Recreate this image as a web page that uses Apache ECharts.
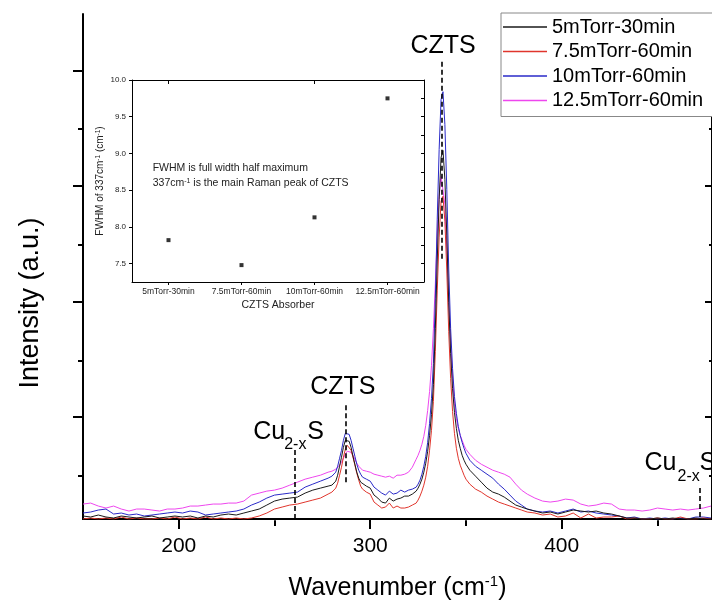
<!DOCTYPE html>
<html>
<head>
<meta charset="utf-8">
<script src="https://cdn.jsdelivr.net/npm/echarts@6/dist/echarts.min.js"></script>
<style>
  html, body { margin: 0; padding: 0; background: #fff; }
  #main { width: 712px; height: 608px; }
</style>
</head>
<body>
<div id="main"></div>
<script>
const FONT = '"Liberation Sans", Arial, sans-serif'

/** Raman shift, cm-1 (shared by the four spectra) */
const wavenumber = [
  150, 154, 158, 162, 166, 170, 174, 178, 182, 186, 190, 194, 198, 202, 206, 210, 214, 218, 222, 226, 230, 234, 238, 242, 246, 250, 254, 258, 262, 266, 270, 274, 278,
  280, 282, 283, 284, 285, 286, 287, 288, 289, 290, 291, 292, 293, 294, 295, 296, 298,
  300, 302, 304, 306, 308, 310, 312, 314, 316, 318, 320, 322, 324,
  325, 326, 327, 328, 329, 330, 331, 332, 333, 334, 335, 336, 337, 338, 339, 340, 341, 342, 343, 344, 345, 346, 347, 348, 349, 350, 352,
  355, 358, 361, 364, 367, 370, 373, 376, 379, 382,
  386, 390, 394, 398, 402, 406, 410, 414, 418, 422, 426, 430, 434, 438, 442, 446, 450, 454, 458, 462, 466, 470, 474, 478,
]

// intensities (a.u.)
const int5mTorr30 = [
  30, 20, 40, 20, 10, 30, 20, 10, 20, 30, 10, 20, 30, 20, 30, 10, 30, 20, 40, 50, 40, 60, 80, 100, 140, 180, 200, 210, 220, 260, 290, 310, 330,
  340, 380, 440, 530, 620, 720, 790, 810, 780, 720, 630, 550, 470, 410, 370, 350, 330,
  310, 240, 210, 170, 160, 210, 180, 200, 210, 230, 230, 250, 280,
  310, 350, 400, 470, 560, 680, 840, 1050, 1350, 1910, 2590, 3210, 3630, 3700, 3410, 2850, 2170, 1660, 1310, 1070, 910, 790, 710, 640, 590, 550, 490,
  430, 370, 310, 270, 250, 220, 180, 140, 120, 100,
  80, 60, 70, 50, 70, 90, 80, 70, 80, 60, 50, 30, 10, 10, 0, 0, 10, 0, 10, 0, 0, 10, 0, 0,
]
const int7p5mTorr60 = [
  0, 10, 0, 10, 0, 20, 0, 10, 0, 0, 10, 0, 20, 0, 10, 0, 20, 0, 10, 0, 10, 0, 10, 30, 60, 100, 120, 140, 150, 170, 190, 210, 250,
  270, 310, 360, 440, 520, 620, 700, 740, 740, 690, 620, 540, 460, 390, 330, 300, 270,
  250, 170, 140, 110, 120, 160, 110, 130, 110, 110, 120, 140, 160,
  190, 230, 280, 340, 420, 530, 690, 890, 1180, 1680, 2290, 2830, 3190, 3240, 2990, 2490, 1880, 1410, 1080, 860, 710, 610, 540, 490, 440, 400, 350,
  300, 270, 230, 200, 170, 150, 130, 110, 90, 70,
  60, 40, 50, 20, 30, 60, 10, 50, 10, 20, 20, 30, 0, 10, 0, 0, 10, 0, 0, 20, 0, 0, 10, 0,
]
const int10mTorr60 = [
  60, 70, 90, 100, 50, 60, 40, 50, 30, 40, 50, 60, 70, 60, 80, 70, 40, 50, 60, 70, 80, 100, 140, 170, 210, 240, 250, 260, 270, 320, 350, 380, 410,
  430, 470, 530, 610, 690, 790, 860, 880, 850, 790, 710, 630, 550, 490, 450, 420, 400,
  380, 320, 290, 260, 240, 280, 250, 260, 290, 270, 290, 300, 320,
  350, 390, 450, 530, 630, 770, 960, 1210, 1560, 2210, 3010, 3710, 4210, 4290, 3960, 3310, 2510, 1910, 1510, 1230, 1060, 930, 840, 770, 710, 660, 590,
  530, 490, 450, 410, 350, 300, 240, 180, 140, 100,
  80, 70, 80, 60, 80, 100, 70, 80, 60, 50, 40, 30, 10, 20, 0, 10, 0, 10, 0, 10, 0, 20, 20, 10,
]
const int12p5mTorr60 = [
  150, 160, 130, 110, 130, 100, 80, 100, 100, 90, 80, 100, 100, 110, 130, 130, 140, 150, 150, 160, 160, 180, 240, 260, 280, 290, 310, 340, 370, 400, 420, 440, 470,
  480, 500, 510, 540, 570, 610, 650, 680, 690, 670, 640, 600, 560, 530, 510, 490, 480,
  470, 450, 440, 430, 420, 430, 410, 440, 440, 450, 470, 520, 600,
  640, 690, 750, 830, 940, 1090, 1280, 1540, 1910, 2360, 2840, 3240, 3440, 3430, 3160, 2710, 2210, 1760, 1410, 1160, 1010, 910, 840, 790, 740, 700, 650,
  590, 550, 520, 490, 470, 450, 420, 350, 290, 250,
  210, 180, 170, 180, 200, 190, 150, 130, 140, 160, 150, 100, 90, 90, 80, 90, 110, 100, 90, 100, 90, 100, 110, 130,
]

const seriesNames = ['5mTorr-30min', '7.5mTorr-60min', '10mTorr-60min', '12.5mTorr-60min']
const seriesValues = [int5mTorr30, int7p5mTorr60, int10mTorr60, int12p5mTorr60]
const seriesColors = ['#1a1a1a', '#e0352c', '#2a2ac8', '#ee46ee']

const xMajorTicks = [200, 300, 400]
const xMinorTicks = [250, 350, 450]
const xTopTicks = [200, 250, 300, 350, 400, 450]
const yMajorTicks = [1029, 2186, 3343, 4500]
const yMinorTicks = [451, 1607, 2764, 3921]

/** 峰位标注: wavenumber, dashed line from top to bottom intensity */
const peakMarks = [
  { label: 'CZTS', x: 337.5, top: 4590, bottom: 2610 },
  { label: 'CZTS', x: 287.3, top: 1143, bottom: 360 },
  { label: 'Cu2-xS', x: 260.8, top: 693, bottom: 0 },
  { label: 'Cu2-xS', x: 472, top: 310, bottom: 0 },
]

// inset: FWHM of the 337 cm-1 peak
const insetCategories = ['5mTorr-30min', '7.5mTorr-60min', '10mTorr-60min', '12.5mTorr-60min']
const insetFwhm = [7.82, 7.48, 8.13, 9.75]
const insetYTicks = [7.5, 8.0, 8.5, 9.0, 9.5, 10.0]
const insetYSmallTicks = [7.5, 7.75, 8.0, 8.25, 8.5, 8.75, 9.0, 9.25, 9.5, 9.75, 10.0]

const MAIN_GRID = { left: 83, top: 14, width: 630, height: 507 }
const X_RANGE = { min: 150, max: 478.5 }
const Y_RANGE = { min: 0, max: 5070 }

const black = '#000'

function hiddenAxisParts() {
  return { axisLabel: { show: false }, splitLine: { show: false } }
}

const option = {
  animation: false,
  backgroundColor: '#fff',
  textStyle: { fontFamily: FONT },
  grid: [
    { ...MAIN_GRID, containLabel: false },
    { ...MAIN_GRID, containLabel: false },
    { left: 132, top: 80, width: 292, height: 202 },
  ],
  legend: {
    data: seriesNames.map((name) => ({ name, icon: 'rect' })),
    orient: 'vertical',
    left: 501,
    top: 13,
    padding: [4, 14, 6, 2],
    itemWidth: 44,
    itemHeight: 1.3,
    itemGap: 4.5,
    backgroundColor: '#fff',
    borderColor: '#888',
    borderWidth: 1,
    textStyle: { fontSize: 20, color: black, fontFamily: FONT },
    z: 20,
  },
  xAxis: [
    {
      gridIndex: 0,
      type: 'value',
      position: 'bottom',
      ...X_RANGE,
      axisLine: { show: true, lineStyle: { color: black, width: 2 } },
      axisTick: { show: true, customValues: xMajorTicks, length: 10, lineStyle: { color: black, width: 2 } },
      axisLabel: { customValues: xMajorTicks, fontSize: 21, color: black, margin: 17, fontFamily: FONT },
      splitLine: { show: false },
      name: 'Wavenumber (cm{s|-1})',
      nameLocation: 'middle',
      nameGap: 55,
      nameTextStyle: {
        fontSize: 25,
        color: black,
        fontFamily: FONT,
        lineHeight: 29,
        rich: { s: { fontSize: 15, verticalAlign: 'top', lineHeight: 15, color: black, fontFamily: FONT } },
      },
    },
    {
      gridIndex: 0,
      type: 'value',
      position: 'top',
      ...X_RANGE,
      axisLine: { show: true, lineStyle: { color: black, width: 2 } },
      axisTick: { show: true, inside: true, customValues: xTopTicks, length: 5, lineStyle: { color: black, width: 1.5 } },
      ...hiddenAxisParts(),
    },
    {
      gridIndex: 1,
      type: 'value',
      position: 'bottom',
      ...X_RANGE,
      axisLine: { show: false },
      axisTick: { show: true, customValues: xMinorTicks, length: 5, lineStyle: { color: black, width: 2 } },
      ...hiddenAxisParts(),
    },
    {
      gridIndex: 2,
      type: 'category',
      position: 'bottom',
      data: insetCategories,
      boundaryGap: true,
      axisLine: { show: true, lineStyle: { color: black, width: 1 } },
      axisTick: { show: true, alignWithLabel: true, length: 3, lineStyle: { color: black } },
      axisLabel: { interval: 0, hideOverlap: false, fontSize: 8.5, color: '#222', margin: 5, fontFamily: FONT },
      splitLine: { show: false },
      name: 'CZTS Absorber',
      nameLocation: 'middle',
      nameGap: 18,
      nameTextStyle: { fontSize: 10.5, color: '#222', fontFamily: FONT },
    },
    {
      gridIndex: 2,
      type: 'category',
      position: 'top',
      data: insetCategories,
      boundaryGap: true,
      axisLine: { show: true, lineStyle: { color: black, width: 1 } },
      axisTick: { show: true, inside: true, alignWithLabel: true, length: 4, lineStyle: { color: black } },
      ...hiddenAxisParts(),
    },
  ],
  yAxis: [
    {
      gridIndex: 0,
      type: 'value',
      position: 'left',
      ...Y_RANGE,
      axisLine: { show: true, lineStyle: { color: black, width: 2 } },
      axisTick: { show: true, customValues: yMajorTicks, length: 10, lineStyle: { color: black, width: 2 } },
      ...hiddenAxisParts(),
    },
    {
      gridIndex: 0,
      type: 'value',
      position: 'right',
      ...Y_RANGE,
      axisLine: { show: true, lineStyle: { color: black, width: 2 } },
      axisTick: { show: true, inside: true, customValues: yMajorTicks, length: 7, lineStyle: { color: black, width: 2 } },
      ...hiddenAxisParts(),
    },
    {
      gridIndex: 1,
      type: 'value',
      position: 'left',
      ...Y_RANGE,
      axisLine: { show: false },
      axisTick: { show: true, customValues: yMinorTicks, length: 5, lineStyle: { color: black, width: 2 } },
      ...hiddenAxisParts(),
    },
    {
      gridIndex: 1,
      type: 'value',
      position: 'right',
      ...Y_RANGE,
      axisLine: { show: false },
      axisTick: { show: true, inside: true, customValues: yMinorTicks, length: 3, lineStyle: { color: black, width: 2 } },
      ...hiddenAxisParts(),
    },
    {
      gridIndex: 2,
      type: 'value',
      position: 'left',
      min: 7.25,
      max: 10.0,
      axisLine: { show: true, lineStyle: { color: black, width: 1 } },
      axisTick: { show: true, customValues: insetYTicks, length: 3, lineStyle: { color: black } },
      axisLabel: {
        customValues: insetYTicks,
        formatter: (v) => v.toFixed(1),
        fontSize: 8,
        color: '#222',
        margin: 6,
        fontFamily: FONT,
      },
      splitLine: { show: false },
      name: 'FWHM of 337cm{s|-1} (cm{s|-1})',
      nameLocation: 'middle',
      nameGap: 24,
      nameTextStyle: {
        fontSize: 10,
        color: '#222',
        fontFamily: FONT,
        lineHeight: 12,
        rich: { s: { fontSize: 6.5, verticalAlign: 'top', lineHeight: 7, color: '#222', fontFamily: FONT } },
      },
    },
    {
      gridIndex: 2,
      type: 'value',
      position: 'right',
      min: 7.25,
      max: 10.0,
      axisLine: { show: true, lineStyle: { color: black, width: 1 } },
      axisTick: { show: true, inside: true, customValues: insetYSmallTicks, length: 3, lineStyle: { color: black } },
      ...hiddenAxisParts(),
    },
  ],
  series: [
    ...seriesNames.map((name, i) => ({
      name,
      type: 'line',
      xAxisIndex: 0,
      yAxisIndex: 0,
      symbol: 'none',
      clip: true,
      lineStyle: { color: seriesColors[i], width: 1 },
      itemStyle: { color: seriesColors[i] },
      data: wavenumber.map((w, k) => [w, seriesValues[i][k]]),
      z: 2 + (3 - i) * 0.1,
    })),
    {
      name: 'FWHM',
      type: 'scatter',
      xAxisIndex: 3,
      yAxisIndex: 4,
      symbol: 'rect',
      symbolSize: 4,
      itemStyle: { color: black },
      data: insetFwhm,
    },
    {
      name: 'peaks',
      type: 'line',
      xAxisIndex: 0,
      yAxisIndex: 0,
      data: [],
      markLine: {
        silent: true,
        symbol: ['none', 'none'],
        label: { show: false },
        lineStyle: { color: black, width: 1.6, type: [5, 3] },
        data: peakMarks.map((p) => [{ coord: [p.x, p.top] }, { coord: [p.x, p.bottom] }]),
      },
    },
  ],
}

const chart = echarts.init(document.getElementById('main'), null, { renderer: 'canvas' })
chart.setOption(option)

/** 标注文字, 以虚线顶端为锚点 */
function toPixel(x, y) {
  return chart.convertToPixel({ gridIndex: 0 }, [x, y])
}

function txt(text, x, y, size, extra) {
  return {
    type: 'text',
    x,
    y,
    z: 30,
    style: { text, fontSize: size, fill: black, fontFamily: FONT, align: 'left', verticalAlign: 'middle', ...(extra || {}) },
  }
}

const [czA, czB, cuA, cuB] = peakMarks.map((p) => toPixel(p.x, p.top))

const graphics = [
  txt('CZTS', czA[0] + 1, czA[1] - 16, 25, { align: 'center' }),
  txt('CZTS', czB[0] - 3, czB[1] - 18, 25, { align: 'center' }),
  // Cu2-xS (left)
  txt('Cu', cuA[0] - 42, cuA[1] - 18, 25),
  txt('2-x', cuA[0] - 11, cuA[1] - 5, 16),
  txt('S', cuA[0] + 12, cuA[1] - 18, 25),
  // Cu2-xS (right, cut by the frame)
  txt('Cu', cuB[0] - 55, cuB[1] - 25, 25),
  txt('2-x', cuB[0] - 22, cuB[1] - 12, 16),
  txt('S', cuB[0] + 0, cuB[1] - 25, 25),
  // y axis title
  {
    type: 'text',
    x: 31,
    y: 303,
    rotation: Math.PI / 2,
    z: 30,
    style: { text: 'Intensity (a.u.)', fontSize: 27, fill: black, fontFamily: FONT, align: 'center', verticalAlign: 'middle' },
  },
  // inset note
  txt('FWHM is full width half maximum', 152.7, 168.3, 10.5, { fill: '#222' }),
  {
    type: 'text',
    x: 152.7,
    y: 183.3,
    z: 30,
    style: {
      text: '337cm{s|-1} is the main Raman peak of CZTS',
      fontSize: 10.5,
      lineHeight: 12,
      fill: '#222',
      fontFamily: FONT,
      align: 'left',
      verticalAlign: 'middle',
      rich: { s: { fontSize: 7, lineHeight: 7, verticalAlign: 'top', fill: '#222', fontFamily: FONT } },
    },
  },
]

chart.setOption({ graphic: graphics })
</script>
</body>
</html>
